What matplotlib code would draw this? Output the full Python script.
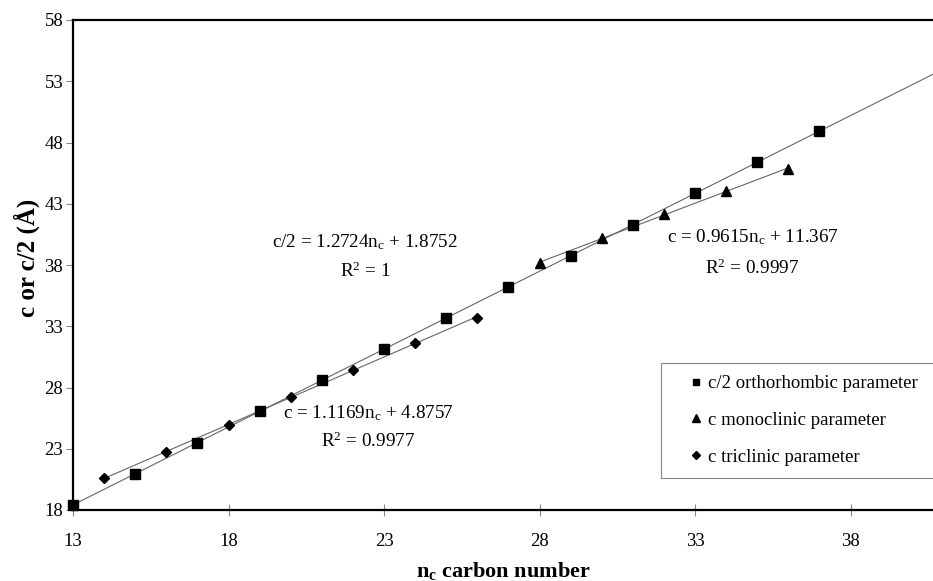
import numpy as np
import matplotlib
matplotlib.use("Agg")
from matplotlib import pyplot as plt
from matplotlib.patches import Rectangle

plt.rcParams['font.family'] = ['Liberation Serif', 'DejaVu Serif']
plt.rcParams['mathtext.fontset'] = 'custom'
plt.rcParams['mathtext.rm'] = 'Liberation Serif'
plt.rcParams['mathtext.it'] = 'Liberation Serif:italic'
plt.rcParams['mathtext.bf'] = 'Liberation Serif:bold'

# carbon numbers and lattice parameters
n_ortho = [13, 15, 17, 19, 21, 23, 25, 27, 29, 31, 33, 35, 37]
c_ortho = [18.4, 20.95, 23.5, 26.05, 28.6, 31.15, 33.7, 36.2, 38.75, 41.3, 43.85, 46.4, 48.9]

n_mono = [28, 30, 32, 34, 36]
c_mono = [38.15, 40.2, 42.15, 44.05, 45.85]

n_tri = [14, 16, 18, 20, 22, 24, 26]
c_tri = [20.6, 22.7, 24.95, 27.25, 29.45, 31.65, 33.7]

x_ticks = [13, 18, 23, 28, 33, 38]
y_ticks = [18, 23, 28, 33, 38, 43, 48, 53, 58]

eq_ortho = r'c/2 = 1.2724$\mathregular{n_c}$ + 1.8752'
r2_ortho = r'R$\mathregular{^2}$ = 1'
eq_tri = r'c = 1.1169$\mathregular{n_c}$ + 4.8757'
r2_tri = r'R$\mathregular{^2}$ = 0.9977'
eq_mono = r'c = 0.9615$\mathregular{n_c}$ + 11.367'
r2_mono = r'R$\mathregular{^2}$ = 0.9997'

fig = plt.figure(figsize=(9.33, 5.81), dpi=100)
ax = fig.add_axes([73 / 933, 1 - 510 / 581, 1 - 73 / 933, (510 - 20) / 581])

line_col = '#666666'

# linear trend lines
p = np.polyfit(n_ortho, c_ortho, 1)
xs = np.array([n_ortho[0], 43])
ax.plot(xs, np.polyval(p, xs), color=line_col, lw=0.8, zorder=1)
p = np.polyfit(n_mono, c_mono, 1)
xs = np.array([n_mono[0], n_mono[-1]])
ax.plot(xs, np.polyval(p, xs), color=line_col, lw=0.8, zorder=1)
p = np.polyfit(n_tri, c_tri, 1)
xs = np.array([n_tri[0], n_tri[-1]])
ax.plot(xs, np.polyval(p, xs), color=line_col, lw=0.8, zorder=1)

ax.plot(n_ortho, c_ortho, 's', color='black', markersize=6.5, label='c/2 orthorhombic parameter', clip_on=False, zorder=3)
ax.plot(n_mono, c_mono, '^', color='black', markersize=7, label='c monoclinic parameter', clip_on=False, zorder=3)
ax.plot(n_tri, c_tri, 'D', color='black', markersize=5, label='c triclinic parameter', clip_on=False, zorder=3)

fs = 13.8
ax.text(22.4, 39.9, eq_ortho, ha='center', va='center', fontsize=fs)
ax.text(22.4, 37.45, r2_ortho, ha='center', va='center', fontsize=fs)
ax.text(22.5, 25.9, eq_tri, ha='center', va='center', fontsize=fs)
ax.text(22.5, 23.6, r2_tri, ha='center', va='center', fontsize=fs)
ax.text(34.85, 40.3, eq_mono, ha='center', va='center', fontsize=fs)
ax.text(34.85, 37.75, r2_mono, ha='center', va='center', fontsize=fs)

ax.set_xlim(13, 40.65)
ax.set_ylim(18, 58)
ax.set_xticks(x_ticks)
ax.set_yticks(y_ticks)
ax.tick_params(axis='x', direction='inout', length=9, width=0.8, color='#888888', labelsize=13.5, pad=12)
ax.tick_params(axis='y', direction='out', length=5, width=0.8, color='#888888', labelsize=13.5, pad=2)

for s in ['left', 'top', 'bottom']:
    ax.spines[s].set_linewidth(1.6)
    ax.spines[s].set_color('black')
ax.spines['right'].set_visible(False)

ax.set_ylabel('c or c/2 (Å)', fontsize=18, fontweight='bold')
ax.yaxis.set_label_coords(-0.038, 0.515)
ax.set_xlabel(r'$\mathbf{n_c}$ carbon number', fontsize=16, fontweight='bold', labelpad=7)

# legend box reaches past the right edge, as in the original
fig.add_artist(Rectangle((661 / 933, 1 - 478 / 581), (950 - 661) / 933, (478 - 363) / 581,
                         transform=fig.transFigure, fill=False, edgecolor='#888888', lw=0.8))
leg = ax.legend(loc='upper left', bbox_to_anchor=(687 / 933, 1 - 375 / 581),
                bbox_transform=fig.transFigure, fontsize=13.5, frameon=False,
                handlelength=1.0, handletextpad=0.1,
                labelspacing=1.05, borderpad=0, borderaxespad=0, markerscale=0.75)

plt.savefig('out.png', dpi=100)
